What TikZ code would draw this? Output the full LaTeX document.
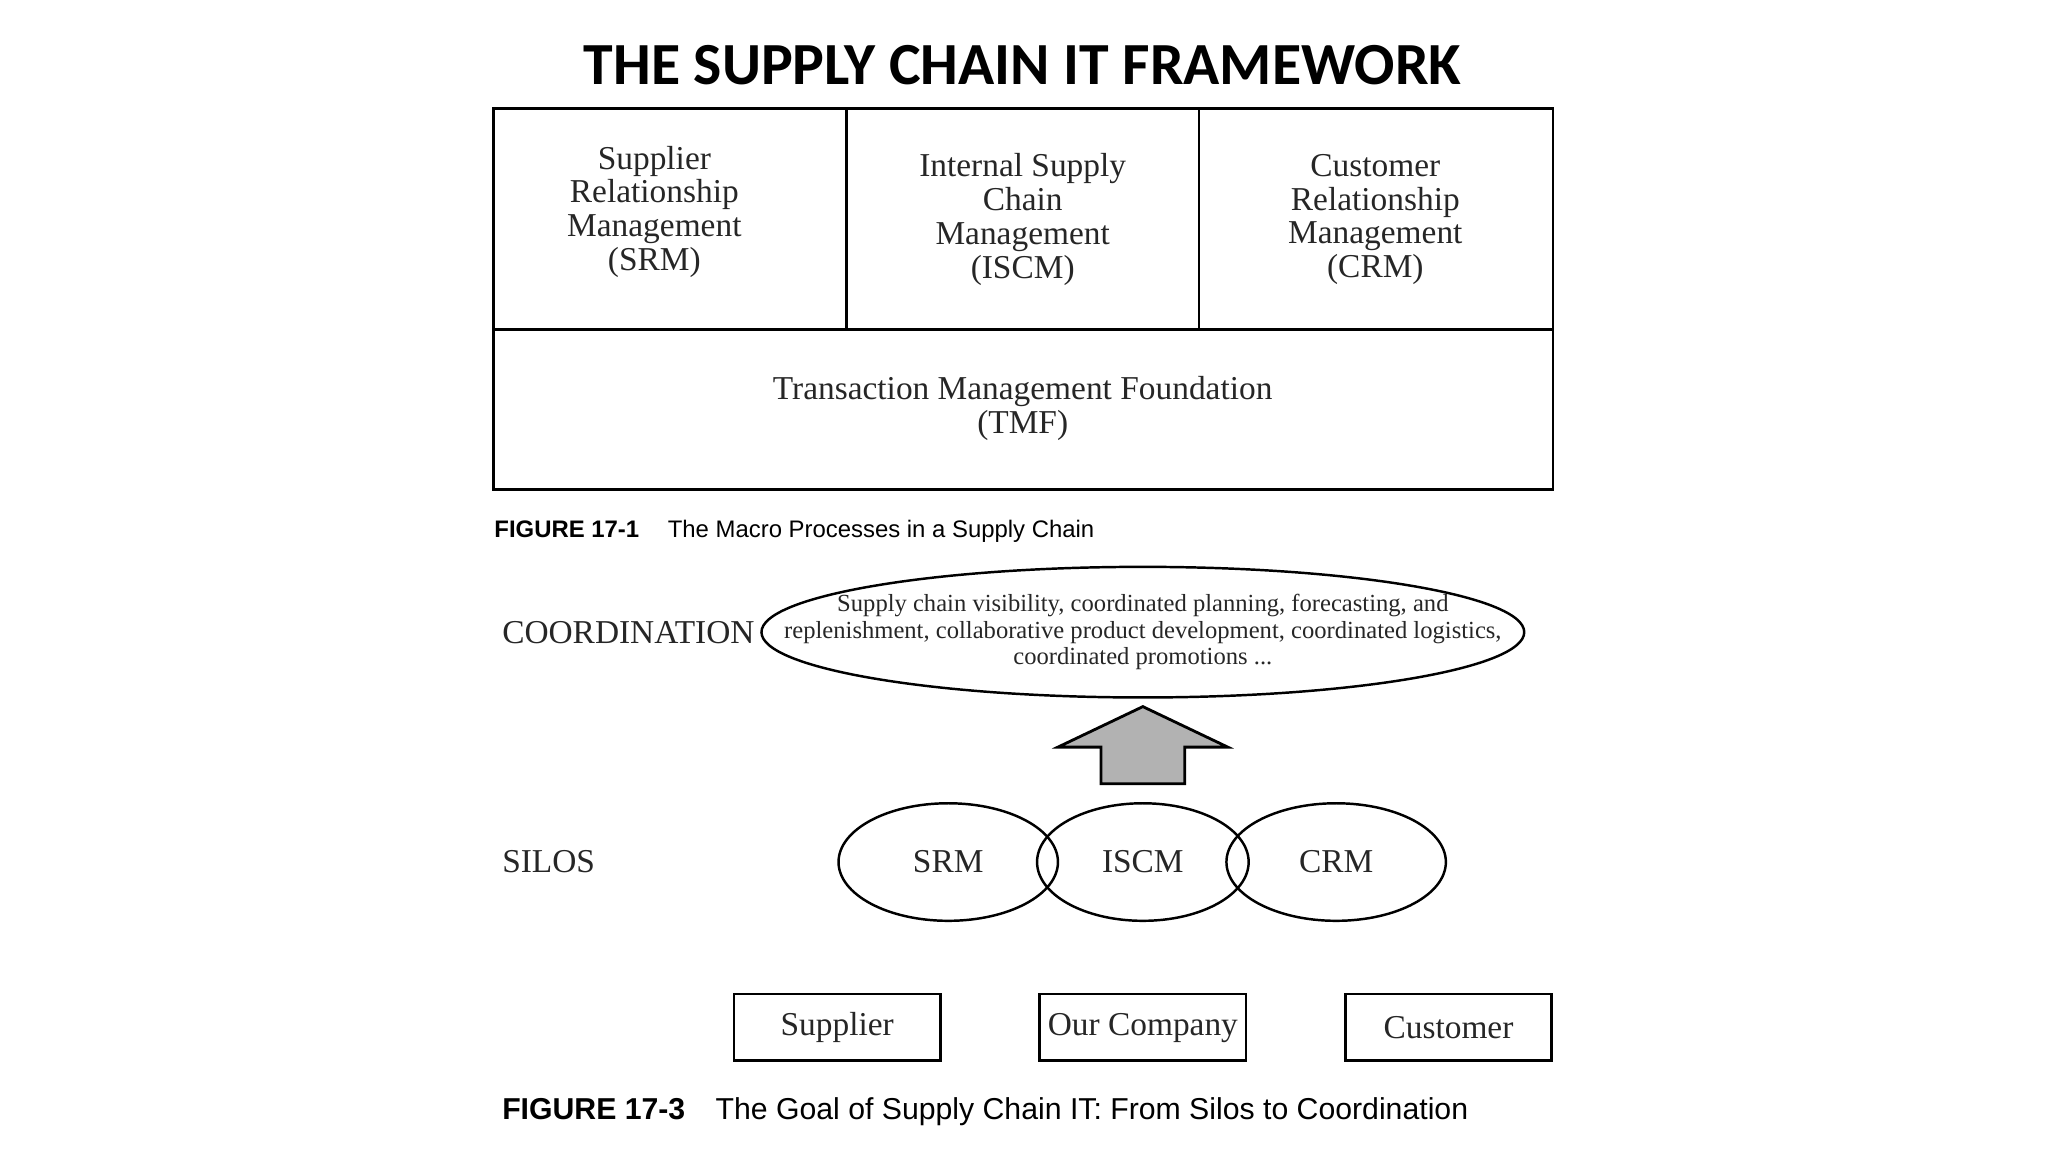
\documentclass[tikz,border=0pt]{standalone}
\usepackage{fontspec}
\setmainfont{Liberation Serif}
\newfontfamily\titlefont{Carlito}
\newfontfamily\capfont{Liberation Sans}
\begin{document}
\begin{tikzpicture}[x=0.013061cm,y=-0.013061cm,
  bx/.style={draw,line width=0.8pt},
  lab/.style={font=\fontsize{9.5}{9.6}\selectfont,align=center,text=black!85},
  el/.style={draw,ellipse,line width=0.7pt}]
\useasboundingbox (0,0) rectangle (1568,882);
\node[font=\titlefont\bfseries\fontsize{17}{20}\selectfont] (title) at (783,50) {THE SUPPLY CHAIN IT FRAMEWORK};
% figure 17-1
\draw[bx] (378,83) rectangle (1189,375);
\draw[bx] (378,252) -- (1189,252);
\draw[bx] (648,83) -- (648,252);
\draw[bx] (918,83) -- (918,252);
\node[lab] (srm1) at (501,162) {Supplier\\Relationship\\Management\\(SRM)};
\node[lab] (iscm1) at (783,168) {Internal Supply\\Chain\\Management\\(ISCM)};
\node[lab] (crm1) at (1053,168) {Customer\\Relationship\\Management\\(CRM)};
\node[lab] (tmf) at (783,313) {Transaction Management Foundation\\(TMF)};
\node[anchor=west,font=\capfont\fontsize{6.8}{8}\selectfont,inner sep=0] (cap1) at (378,407) {\textbf{FIGURE 17-1}\hspace{1.2em}The Macro Processes in a Supply Chain};
% figure 17-3
\node[anchor=west,inner sep=0,lab] (coord) at (384,484) {COORDINATION};
\draw[line width=0.7pt] (875,484) ellipse [x radius=292,y radius=50];
\node[lab,font=\fontsize{7}{7.5}\selectfont] (ctext) at (875,484) {Supply chain visibility, coordinated planning, forecasting, and\\replenishment, collaborative product development, coordinated logistics,\\coordinated promotions ...};
\draw[line width=0.8pt,fill=black!30] (875,541) -- (940,572) -- (907,572) -- (907,600) -- (843,600) -- (843,572) -- (810,572) -- cycle;
\node[anchor=west,inner sep=0,lab] (silos) at (384,660) {SILOS};
\draw[line width=0.7pt] (726,660) ellipse [x radius=84,y radius=45];
\draw[line width=0.7pt] (875,660) ellipse [x radius=81,y radius=45];
\draw[line width=0.7pt] (1023,660) ellipse [x radius=84,y radius=45];
\node[lab] (srm) at (726,660) {SRM};
\node[lab] (iscm) at (875,660) {ISCM};
\node[lab] (crm) at (1023,660) {CRM};
\draw[bx] (562,761) rectangle (720,812);
\draw[bx] (796,761) rectangle (954,812);
\draw[bx] (1030,761) rectangle (1188,812);
\node[lab] (sup) at (641,787) {Supplier};
\node[lab] (ourc) at (875,787) {Our Company};
\node[lab] (cust) at (1109,787) {Customer};
\node[anchor=west,font=\capfont\fontsize{8.6}{10}\selectfont,inner sep=0] (cap3) at (384,851) {\textbf{FIGURE 17-3}\hspace{1em}The Goal of Supply Chain IT: From Silos to Coordination};
\end{tikzpicture}
\end{document}
